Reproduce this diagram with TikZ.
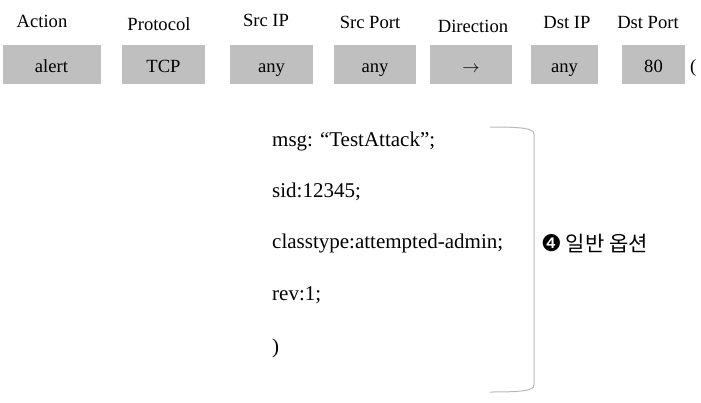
\documentclass[tikz,border=0pt]{standalone}
\usepackage{fontspec}
\setmainfont{Liberation Serif}
\newfontfamily\kofont{Noto Sans CJK KR}
\newfontfamily\circfont{DejaVu Sans}
\usetikzlibrary{positioning}

\definecolor{fieldgray}{RGB}{191,191,191}
\definecolor{bracketgray}{RGB}{185,185,185}

\tikzset{
	field/.style={fill=fieldgray, minimum height=39pt, inner sep=0pt,
		text height=16pt, text depth=1pt,
		font=\fontsize{18.6}{22}\selectfont},
	header/.style={anchor=base, inner sep=0pt, font=\fontsize{18.6}{22}\selectfont},
	option/.style={anchor=base west, inner sep=0pt, font=\fontsize{21}{25}\selectfont}
}

\begin{document}
\begin{tikzpicture}[x=1pt, y=-1pt]
	\useasboundingbox (0, 0) rectangle (701, 402);

	% rule header fields
	\node (action) at (51.5, 64.5) [field, minimum width=98pt] {alert};
	\node (proto) at (163.5, 64.5) [field, minimum width=83pt] {TCP};
	\node (srcip) at (271.5, 64.5) [field, minimum width=83pt] {any};
	\node (srcport) at (375, 64.5) [field, minimum width=82pt] {any};
	\node (dir) at (471, 64.5) [field, minimum width=82pt] {$\rightarrow$};
	\node (dstip) at (564.5, 64.5) [field, minimum width=67pt] {any};
	\node (dstport) at (653.5, 64.5) [field, minimum width=63pt] {80};
	\node (open) at (690, 72) [header, anchor=base west] {(};

	\node (lbl-action) at (42, 27) [header] {Action};
	\node (lbl-proto) at (159, 30) [header] {Protocol};
	\node (lbl-srcip) at (266, 26) [header] {Src IP};
	\node (lbl-srcport) at (370, 28) [header] {Src Port};
	\node (lbl-dir) at (473, 32) [header] {Direction};
	\node (lbl-dstip) at (567, 28) [header] {Dst IP};
	\node (lbl-dstport) at (648, 28) [header] {Dst Port};

	% rule options
	\node (msg) at (272, 146) [option] {msg: “TestAttack”;};
	\node (sid) at (272, 197) [option] {sid:12345;};
	\node (class) at (272, 248) [option] {classtype:attempted-admin;};
	\node (rev) at (272, 300) [option] {rev:1;};
	\node (close) at (272, 353) [option] {)};

	\coordinate (btop) at (490, 127);
	\coordinate (bbot) at (490, 392);
	\draw[bracketgray, line width=1pt]
		(btop) .. controls (520, 127) and (534, 128) .. (534, 134)
		-- (534, 385) .. controls (534, 391) and (520, 392) .. (bbot);

	\node (general) at (541, 251) [anchor=base west, inner sep=0pt]
		{{\circfont\fontsize{23}{26}\selectfont ❹}\hspace{4pt}{\kofont\fontsize{21}{24}\selectfont 일반 옵션}};
\end{tikzpicture}
\end{document}
